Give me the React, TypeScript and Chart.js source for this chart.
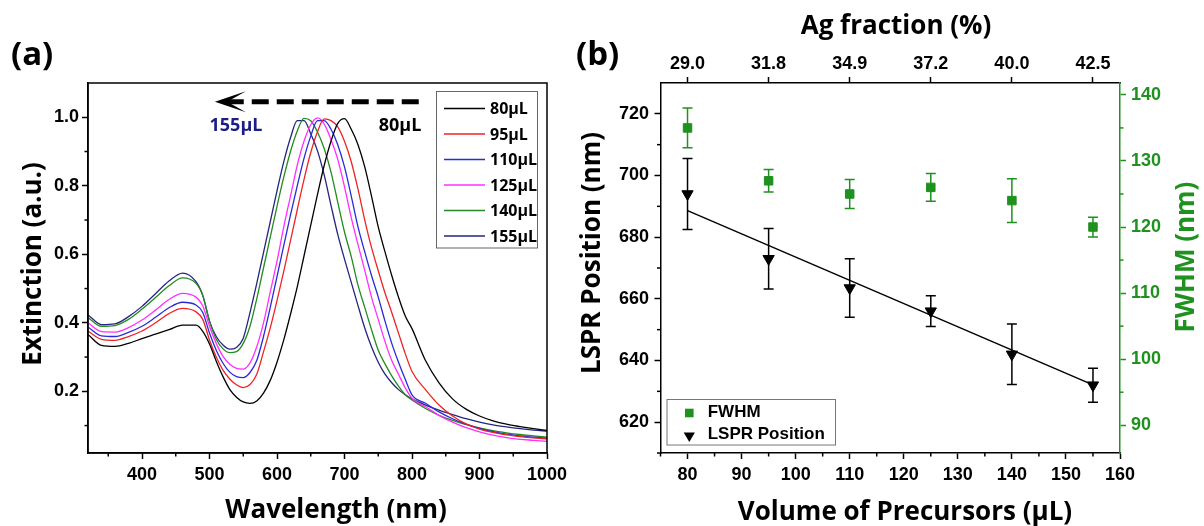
import React, { useEffect, useRef } from 'react';
import { Chart, registerables } from 'chart.js';

Chart.register(...registerables);

// ---------------- Panel (a): extinction spectra ----------------
const wavelengths = [320, 340, 360, 380, 400, 420, 440, 460, 480, 490, 500, 510, 520, 530, 540, 550, 560, 570, 580, 590, 600, 610, 620, 630, 640, 650, 660, 670, 680, 690, 700, 710, 720, 730, 740, 750, 760, 770, 780, 790, 800, 820, 840, 860, 880, 900, 920, 940, 960, 980, 1000];

const ext80 = [0.366, 0.334, 0.331, 0.34, 0.354, 0.367, 0.38, 0.393, 0.393, 0.375, 0.338, 0.288, 0.243, 0.206, 0.183, 0.169, 0.165, 0.172, 0.195, 0.232, 0.285, 0.35, 0.425, 0.505, 0.595, 0.685, 0.775, 0.86, 0.93, 0.982, 0.996, 0.965, 0.92, 0.855, 0.77, 0.68, 0.607, 0.538, 0.475, 0.42, 0.383, 0.29, 0.225, 0.178, 0.148, 0.128, 0.114, 0.104, 0.097, 0.091, 0.086];
const ext95 = [0.376, 0.352, 0.349, 0.36, 0.376, 0.4, 0.427, 0.442, 0.432, 0.41, 0.35, 0.3, 0.262, 0.236, 0.219, 0.211, 0.22, 0.25, 0.315, 0.385, 0.465, 0.55, 0.64, 0.73, 0.818, 0.897, 0.958, 0.995, 0.99, 0.972, 0.93, 0.87, 0.79, 0.7, 0.62, 0.552, 0.487, 0.43, 0.37, 0.31, 0.258, 0.205, 0.16, 0.128, 0.105, 0.09, 0.08, 0.073, 0.068, 0.064, 0.061];
const ext110 = [0.388, 0.362, 0.36, 0.372, 0.39, 0.416, 0.444, 0.46, 0.452, 0.43, 0.37, 0.32, 0.282, 0.256, 0.243, 0.24, 0.255, 0.29, 0.36, 0.445, 0.535, 0.625, 0.715, 0.8, 0.88, 0.945, 0.99, 0.99, 0.965, 0.92, 0.855, 0.77, 0.68, 0.607, 0.538, 0.475, 0.405, 0.34, 0.285, 0.235, 0.19, 0.165, 0.14, 0.12, 0.104, 0.092, 0.082, 0.075, 0.07, 0.066, 0.063];
const ext125 = [0.4, 0.374, 0.373, 0.386, 0.408, 0.437, 0.468, 0.486, 0.475, 0.45, 0.39, 0.34, 0.302, 0.279, 0.267, 0.265, 0.283, 0.33, 0.4, 0.49, 0.58, 0.68, 0.77, 0.86, 0.93, 0.978, 0.998, 0.98, 0.935, 0.877, 0.797, 0.707, 0.628, 0.553, 0.475, 0.41, 0.345, 0.29, 0.25, 0.21, 0.18, 0.155, 0.13, 0.11, 0.094, 0.082, 0.072, 0.065, 0.06, 0.057, 0.054];
const ext140 = [0.415, 0.39, 0.392, 0.41, 0.44, 0.474, 0.508, 0.531, 0.515, 0.48, 0.405, 0.352, 0.324, 0.313, 0.316, 0.34, 0.39, 0.47, 0.56, 0.65, 0.74, 0.825, 0.9, 0.96, 0.997, 0.99, 0.957, 0.908, 0.84, 0.752, 0.665, 0.593, 0.51, 0.445, 0.38, 0.32, 0.28, 0.245, 0.215, 0.19, 0.175, 0.15, 0.13, 0.115, 0.103, 0.093, 0.085, 0.079, 0.074, 0.07, 0.066];
const ext155 = [0.423, 0.395, 0.397, 0.418, 0.448, 0.485, 0.522, 0.545, 0.52, 0.48, 0.405, 0.36, 0.335, 0.323, 0.328, 0.355, 0.43, 0.515, 0.605, 0.695, 0.785, 0.87, 0.94, 0.99, 0.99, 0.952, 0.902, 0.831, 0.743, 0.658, 0.586, 0.518, 0.45, 0.385, 0.33, 0.285, 0.25, 0.225, 0.205, 0.19, 0.178, 0.16, 0.145, 0.132, 0.12, 0.11, 0.102, 0.096, 0.091, 0.087, 0.084];

const spectraLabels = ['80µL', '95µL', '110µL', '125µL', '140µL', '155µL'];
const spectraValues = [ext80, ext95, ext110, ext125, ext140, ext155];
const spectraColors = ['#000000', '#ee2424', '#2a2ad6', '#ff30ff', '#228b22', '#25257f'];

const wlTicks = [400, 500, 600, 700, 800, 900, 1000];
const wlMinor = [350, 450, 550, 650, 750, 850, 950];
const extTicks = [0.2, 0.4, 0.6, 0.8, 1.0];
const extMinor = [0.1, 0.3, 0.5, 0.7, 0.9];

// shift arrow annotation (data coordinates)
const arrowFromNm = 810;
const arrowToNm = 508;
const arrowLevel = 1.045;

// ---------------- Panel (b): LSPR position & FWHM ----------------
const volumes = [80, 95, 110, 125, 140, 155];
const agFraction = ['29.0', '31.8', '34.9', '37.2', '40.0', '42.5'];
const lsprPos = [694, 673, 663.5, 656, 642, 632];
const lsprErr = [11.5, 9.8, 9.5, 5, 9.8, 5.5];
const fwhm = [135, 127, 125, 126, 124, 120];
const fwhmErr = [3, 1.7, 2.2, 2.1, 3.3, 1.5];
const fitVol = [80, 155];
const fitPos = [688.6, 632.1];

const volTicks = [80, 90, 100, 110, 120, 130, 140, 150, 160];
const volMinor = [75, 85, 95, 105, 115, 125, 135, 145, 155];
const lsprTicks = [620, 640, 660, 680, 700, 720];
const lsprMinor = [610, 630, 650, 670, 690, 710];
const fwhmTicks = [90, 100, 110, 120, 130, 140];
const fwhmMinor = [95, 105, 115, 125, 135];

const GREEN = '#1e911e';
const TICK_FONT = { family: '"Liberation Sans", Arial, sans-serif', size: 18, weight: 'bold' as const };
const TITLE_FONT = 'bold 26px "Open Sans", sans-serif';
const PANEL_FONT = 'bold 33px "Open Sans", sans-serif';

function drawText(ctx: CanvasRenderingContext2D, str: string, x: number, y: number, font: string, color: string, rotate = 0, align: CanvasTextAlign = 'center') {
  ctx.save();
  ctx.font = font;
  ctx.fillStyle = color;
  ctx.textAlign = align;
  ctx.textBaseline = 'middle';
  ctx.translate(x, y);
  if (rotate) ctx.rotate(rotate);
  ctx.fillText(str, 0, 0);
  ctx.restore();
}

function drawMinor(chart: any, id: string, values: number[], side: string, color: string, len = 3.5) {
  const s = chart.scales[id];
  const a = chart.chartArea;
  const ctx = chart.ctx as CanvasRenderingContext2D;
  ctx.save();
  ctx.strokeStyle = color;
  ctx.lineWidth = 1.5;
  values.forEach((v) => {
    const p = s.getPixelForValue(v);
    ctx.beginPath();
    if (side === 'bottom') { ctx.moveTo(p, a.bottom); ctx.lineTo(p, a.bottom + len); }
    else if (side === 'top') { ctx.moveTo(p, a.top); ctx.lineTo(p, a.top - len); }
    else if (side === 'left') { ctx.moveTo(a.left, p); ctx.lineTo(a.left - len, p); }
    else { ctx.moveTo(a.right, p); ctx.lineTo(a.right + len, p); }
    ctx.stroke();
  });
  ctx.restore();
}

function axisBase(color: string, padding: number) {
  return {
    grid: { display: true, drawOnChartArea: false, drawTicks: true, tickLength: 6, tickWidth: 1.5, tickColor: color },
    border: { display: true, color, width: 1.5 },
    ticks: { color, font: TICK_FONT, padding, autoSkip: false, maxRotation: 0, minRotation: 0 },
  };
}

function PanelA() {
  const ref = useRef<HTMLCanvasElement | null>(null);
  useEffect(() => {
    if (!ref.current) return;
    const decor = {
      id: 'decorA',
      afterDraw(chart: any) {
        const ctx = chart.ctx as CanvasRenderingContext2D;
        const a = chart.chartArea;
        const xs = chart.scales.x;
        const ys = chart.scales.y;
        ctx.save();
        ctx.strokeStyle = '#000';
        ctx.lineWidth = 1.5;
        ctx.strokeRect(a.left, a.top, a.right - a.left, a.bottom - a.top);
        ctx.restore();
        drawMinor(chart, 'x', wlMinor, 'bottom', '#000');
        drawMinor(chart, 'y', extMinor, 'left', '#000');

        // dashed arrow
        const xr = xs.getPixelForValue(arrowFromNm);
        const xt = xs.getPixelForValue(arrowToNm);
        const yp = ys.getPixelForValue(arrowLevel);
        ctx.save();
        ctx.strokeStyle = '#000';
        ctx.lineWidth = 5;
        ctx.setLineDash([17, 8]);
        ctx.beginPath();
        ctx.moveTo(xr, yp);
        ctx.lineTo(xt + 14, yp);
        ctx.stroke();
        ctx.setLineDash([]);
        ctx.fillStyle = '#000';
        ctx.beginPath();
        ctx.moveTo(xt, yp);
        ctx.lineTo(xt + 31, yp - 10.5);
        ctx.lineTo(xt + 15, yp - 1.5);
        ctx.lineTo(xt + 15, yp + 1.5);
        ctx.lineTo(xt + 31, yp + 10.5);
        ctx.closePath();
        ctx.fill();
        ctx.restore();

        drawText(ctx, '155µL', 236, 126, 'bold 18px "Open Sans", sans-serif', '#1d1d86');
        drawText(ctx, '80µL', 400, 126, 'bold 18px "Open Sans", sans-serif', '#000');

        // legend
        ctx.save();
        ctx.strokeStyle = '#666';
        ctx.lineWidth = 1;
        ctx.strokeRect(436.5, 91.5, 101, 156.5);
        ctx.restore();
        spectraLabels.forEach((lab, i) => {
          const y = 108.5 + i * 25.5;
          ctx.save();
          ctx.strokeStyle = spectraColors[i];
          ctx.lineWidth = 1.5;
          ctx.beginPath();
          ctx.moveTo(444, y);
          ctx.lineTo(485, y);
          ctx.stroke();
          ctx.restore();
          drawText(ctx, lab, 490, y + 1, 'bold 16px "Open Sans", sans-serif', '#000', 0, 'left');
        });

        drawText(ctx, '(a)', 11, 56, PANEL_FONT, '#000', 0, 'left');
        drawText(ctx, 'Wavelength (nm)', 336, 511, TITLE_FONT, '#000');
        drawText(ctx, 'Extinction (a.u.)', 34, 264, TITLE_FONT, '#000', -Math.PI / 2);
      },
    };

    const chart = new Chart(ref.current, {
      type: 'scatter',
      data: {
        datasets: spectraValues.map((vals, i) => ({
          label: spectraLabels[i],
          data: wavelengths.map((w, j) => ({ x: w, y: vals[j] })),
          showLine: true,
          borderColor: spectraColors[i],
          backgroundColor: spectraColors[i],
          borderWidth: 1.3,
          pointRadius: 0,
          cubicInterpolationMode: 'monotone' as const,
        })),
      },
      options: {
        animation: false,
        responsive: false,
        maintainAspectRatio: false,
        layout: { padding: { left: 0, right: 33, top: 83, bottom: 0 } },
        plugins: { legend: { display: false }, tooltip: { enabled: false } },
        scales: {
          x: {
            type: 'linear',
            min: 320,
            max: 1000,
            afterBuildTicks: (s: any) => { s.ticks = wlTicks.map((v) => ({ value: v })); },
            afterFit: (s: any) => { s.height = 73; },
            ...axisBase('#000', 5),
            ticks: { ...axisBase('#000', 5).ticks, callback: (v: any) => String(v) },
          },
          y: {
            type: 'linear',
            min: 0.02,
            max: 1.1,
            afterBuildTicks: (s: any) => { s.ticks = extTicks.map((v) => ({ value: v })); },
            afterFit: (s: any) => { s.width = 88; },
            ...axisBase('#000', 3),
            ticks: { ...axisBase('#000', 3).ticks, callback: (v: any) => Number(v).toFixed(1) },
          },
        },
      } as any,
      plugins: [decor],
    });
    return () => chart.destroy();
  }, []);
  return <canvas ref={ref} width={580} height={526} style={{ position: 'absolute', left: 0, top: 0, width: 580, height: 526 }} />;
}

function PanelB() {
  const ref = useRef<HTMLCanvasElement | null>(null);
  useEffect(() => {
    if (!ref.current) return;
    const drawErr = (chart: any, yId: string, vals: number[], errs: number[], color: string) => {
      const ctx = chart.ctx as CanvasRenderingContext2D;
      const xs = chart.scales.x;
      const ys = chart.scales[yId];
      ctx.save();
      ctx.strokeStyle = color;
      ctx.lineWidth = 1.5;
      volumes.forEach((v, i) => {
        const px = xs.getPixelForValue(v);
        const top = ys.getPixelForValue(vals[i] + errs[i]);
        const bot = ys.getPixelForValue(vals[i] - errs[i]);
        ctx.beginPath();
        ctx.moveTo(px, top); ctx.lineTo(px, bot);
        ctx.moveTo(px - 5, top); ctx.lineTo(px + 5, top);
        ctx.moveTo(px - 5, bot); ctx.lineTo(px + 5, bot);
        ctx.stroke();
      });
      ctx.restore();
    };
    const decor = {
      id: 'decorB',
      beforeDatasetsDraw(chart: any) {
        drawErr(chart, 'y', lsprPos, lsprErr, '#000');
        drawErr(chart, 'y1', fwhm, fwhmErr, GREEN);
      },
      afterDraw(chart: any) {
        const ctx = chart.ctx as CanvasRenderingContext2D;
        drawMinor(chart, 'x', volMinor, 'bottom', '#000');
        drawMinor(chart, 'y', lsprMinor, 'left', '#000');
        drawMinor(chart, 'y1', fwhmMinor, 'right', GREEN);

        // legend
        ctx.save();
        ctx.fillStyle = '#fff';
        ctx.fillRect(107, 399.5, 168.5, 45.5);
        ctx.strokeStyle = '#777';
        ctx.lineWidth = 1;
        ctx.strokeRect(107, 399.5, 168.5, 45.5);
        ctx.fillStyle = GREEN;
        ctx.fillRect(129.3 - 4.3, 413 - 4.3, 8.6, 8.6);
        ctx.fillStyle = '#000';
        ctx.beginPath();
        ctx.moveTo(129.3 - 5.6, 432.5);
        ctx.lineTo(129.3 + 5.6, 432.5);
        ctx.lineTo(129.3, 442);
        ctx.closePath();
        ctx.fill();
        ctx.restore();
        drawText(ctx, 'FWHM', 147.7, 412.5, 'bold 17px "Liberation Sans", Arial, sans-serif', '#000', 0, 'left');
        drawText(ctx, 'LSPR Position', 147.7, 434.5, 'bold 17px "Liberation Sans", Arial, sans-serif', '#000', 0, 'left');

        drawText(ctx, '(b)', 16, 56, PANEL_FONT, '#000', 0, 'left');
        drawText(ctx, 'Ag fraction (%)', 336, 27, TITLE_FONT, '#000');
        drawText(ctx, 'Volume of Precursors (µL)', 345, 513, TITLE_FONT, '#000');
        drawText(ctx, 'LSPR Position (nm)', 33, 253, TITLE_FONT, '#000', -Math.PI / 2);
        drawText(ctx, 'FWHM (nm)', 627, 257, TITLE_FONT, GREEN, -Math.PI / 2);
      },
    };

    const chart = new Chart(ref.current, {
      type: 'scatter',
      data: {
        datasets: [
          {
            label: 'fit',
            data: fitVol.map((v, i) => ({ x: v, y: fitPos[i] })),
            showLine: true,
            borderColor: '#000',
            borderWidth: 1.5,
            pointRadius: 0,
            xAxisID: 'x',
            yAxisID: 'y',
          },
          {
            label: 'LSPR Position',
            data: volumes.map((v, i) => ({ x: v, y: lsprPos[i] })),
            pointStyle: 'triangle',
            rotation: 180,
            pointRadius: 6.5,
            backgroundColor: '#000',
            borderColor: '#000',
            borderWidth: 1,
            xAxisID: 'x',
            yAxisID: 'y',
          },
          {
            label: 'FWHM',
            data: volumes.map((v, i) => ({ x: v, y: fwhm[i] })),
            pointStyle: 'rect',
            pointRadius: 6,
            backgroundColor: GREEN,
            borderColor: GREEN,
            borderWidth: 1,
            xAxisID: 'x',
            yAxisID: 'y1',
          },
        ],
      },
      options: {
        animation: false,
        responsive: false,
        maintainAspectRatio: false,
        layout: { padding: 0 },
        plugins: { legend: { display: false }, tooltip: { enabled: false } },
        scales: {
          x: {
            type: 'linear',
            position: 'bottom',
            min: 75,
            max: 160,
            afterBuildTicks: (s: any) => { s.ticks = volTicks.map((v) => ({ value: v })); },
            afterFit: (s: any) => { s.height = 73; },
            ...axisBase('#000', 5),
            ticks: { ...axisBase('#000', 5).ticks, callback: (v: any) => String(v) },
          },
          xTop: {
            type: 'linear',
            axis: 'x',
            position: 'top',
            min: 75,
            max: 160,
            afterBuildTicks: (s: any) => { s.ticks = volumes.map((v) => ({ value: v })); },
            afterFit: (s: any) => { s.height = 83; },
            ...axisBase('#000', 2),
            ticks: { ...axisBase('#000', 2).ticks, callback: (_v: any, i: number) => agFraction[i] },
          },
          y: {
            type: 'linear',
            position: 'left',
            min: 610,
            max: 730,
            afterBuildTicks: (s: any) => { s.ticks = lsprTicks.map((v) => ({ value: v })); },
            afterFit: (s: any) => { s.width = 100.5; },
            ...axisBase('#000', 5.5),
            ticks: { ...axisBase('#000', 5.5).ticks, callback: (v: any) => String(v) },
          },
          y1: {
            type: 'linear',
            position: 'right',
            min: 85.8,
            max: 141.8,
            afterBuildTicks: (s: any) => { s.ticks = fwhmTicks.map((v) => ({ value: v })); },
            afterFit: (s: any) => { s.width = 84; },
            ...axisBase(GREEN, 5),
            ticks: { ...axisBase(GREEN, 5).ticks, callback: (v: any) => String(v) },
          },
        },
      } as any,
      plugins: [decor],
    });
    return () => chart.destroy();
  }, []);
  return <canvas ref={ref} width={644} height={526} style={{ position: 'absolute', left: 560, top: 0, width: 644, height: 526 }} />;
}

export default function App() {
  return (
    <div style={{ position: 'relative', width: 1204, height: 526, background: '#fff', overflow: 'hidden' }}>
      <style>{'html,body{margin:0;padding:0;background:#fff;}'}</style>
      <PanelA />
      <PanelB />
    </div>
  );
}
